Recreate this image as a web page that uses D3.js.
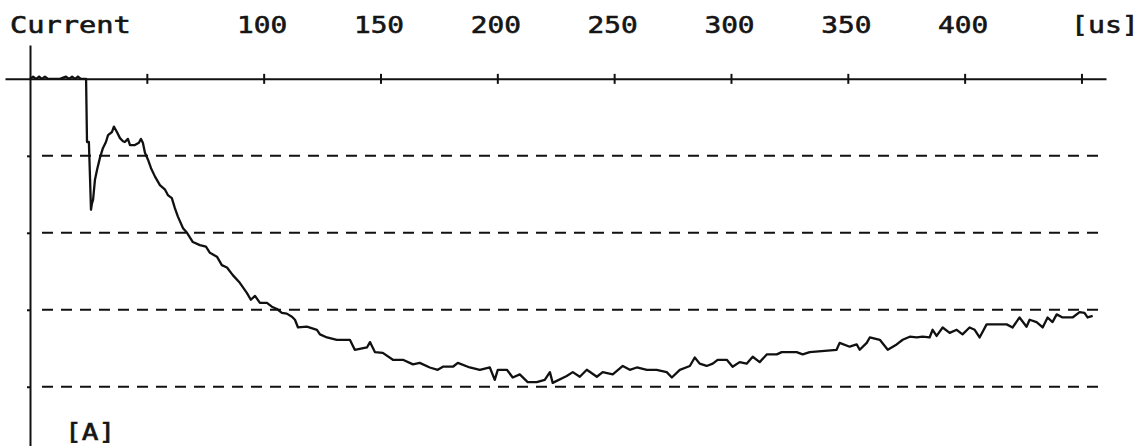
<!DOCTYPE html>
<html>
<head>
<meta charset="utf-8">
<script src="https://cdn.jsdelivr.net/npm/d3@7"></script>
<style>
  html, body { margin: 0; padding: 0; background: #fff; }
  svg { display: block; }
  .lbl { font-family: "DejaVu Sans Mono", monospace; font-size: 23px; font-weight: normal;
         fill: #151515; stroke: #151515; stroke-width: 0.6px; }
</style>
</head>
<body>
<svg id="chart" width="1142" height="446"></svg>
<script>
// Time axis, microseconds
const timeTicks = [50, 100, 150, 200, 250, 300, 350, 400, 450];
const timeTickLabels = ["", "100", "150", "200", "250", "300", "350", "400", ""];
const timeUnit = "[us]";
const currentTitle = "Current";
const currentUnit = "[A]";
// Current grid levels (divisions below zero)
const currentGrid = [-1, -2, -3, -4];

// Recorded trace: time (us) and current (div)
const traceTime = [
  0, 1.3, 2.6, 3.9, 5.1, 6.4, 7.7, 9.4, 12.8, 15.4, 16.7, 18.0, 19.3, 20.5, 21.8, 24.0,
  24.4, 25.2, 25.7, 26.1, 26.5, 27.0, 27.8, 28.7, 29.9, 31.2, 32.5, 33.4, 35.1, 35.9, 37.2,
  38.5, 39.8, 40.6, 41.9, 42.8, 44.9, 46.6, 47.5, 48.3, 49.2, 50.5, 51.8, 53.5, 55.6,
  57.8, 59.0, 60.7, 62.0, 63.3, 65.5, 67.2, 69.7, 72.7, 75.3, 77.0, 80.0, 82.1, 84.3,
  86.8, 89.8, 92.8, 94.5, 96.3, 98.4, 101.4, 103.5, 105.7, 107.8, 109.9, 112.1,
  113.4, 114.7, 118.5, 122.8, 124.1, 127.1, 131.3, 136.9, 139.0, 144.2, 145.5, 147.6,
  151.0, 155.3, 159.6, 163.9, 166.8, 171.1, 174.5, 176.7, 181.0, 183.1, 188.2, 192.5,
  196.8, 198.9, 200.2, 204.1, 206.6, 209.6, 213.0, 216.9, 220.3, 222.5, 223.7, 229.7,
  232.3, 235.3, 238.3, 242.6, 245.1, 249.4, 253.7, 256.7, 259.7, 264.0, 268.2, 272.5,
  274.7, 278.1, 282.4, 284.5, 286.6, 289.6, 292.2, 294.3, 298.2, 300.7, 303.7, 306.7,
  309.3, 312.3, 315.3, 319.6, 321.7, 328.1, 330.7, 333.7, 345.2, 346.5, 350.8, 353.8,
  355.1, 358.1, 359.4, 363.7, 367.1, 370.9, 373.5, 376.5, 379.5, 382.0, 385.0, 386.3,
  388.0, 390.6, 393.6, 396.6, 399.1, 402.1, 404.3, 406.4, 409.4, 418.0, 420.5, 423.5,
  426.5, 427.8, 430.8, 433.4, 435.5, 437.6, 439.4, 441.9, 446.2, 449.2, 451.3, 452.6, 454.8
];
const traceCurrent = [
  0, 0.03, 0, 0.03, 0, 0.03, 0, 0, 0, 0.03, 0, 0.03, 0, 0.03, 0, 0,
  -0.82, -0.82, -1.3, -1.70, -1.62, -1.57, -1.31, -1.18, -1.03, -0.90, -0.82, -0.73, -0.69, -0.62, -0.69,
  -0.77, -0.81, -0.82, -0.78, -0.86, -0.86, -0.83, -0.78, -0.83, -0.96, -1.05, -1.16, -1.27, -1.38,
  -1.44, -1.51, -1.55, -1.68, -1.79, -1.94, -2.00, -2.12, -2.16, -2.18, -2.26, -2.31, -2.42, -2.45,
  -2.55, -2.65, -2.78, -2.87, -2.82, -2.91, -2.91, -2.96, -2.99, -3.04, -3.05, -3.09,
  -3.13, -3.23, -3.22, -3.26, -3.32, -3.36, -3.39, -3.39, -3.52, -3.49, -3.42, -3.55,
  -3.56, -3.65, -3.65, -3.71, -3.69, -3.75, -3.78, -3.74, -3.74, -3.69, -3.75, -3.78,
  -3.75, -3.91, -3.78, -3.78, -3.88, -3.84, -3.94, -3.94, -3.91, -3.81, -3.95, -3.86,
  -3.81, -3.87, -3.78, -3.87, -3.81, -3.84, -3.73, -3.78, -3.75, -3.78, -3.78, -3.81,
  -3.88, -3.78, -3.73, -3.62, -3.70, -3.73, -3.70, -3.65, -3.65, -3.74, -3.68, -3.70,
  -3.61, -3.68, -3.58, -3.58, -3.55, -3.55, -3.58, -3.55, -3.52, -3.43, -3.48, -3.45,
  -3.52, -3.43, -3.36, -3.39, -3.52, -3.45, -3.39, -3.35, -3.36, -3.35, -3.36, -3.26,
  -3.34, -3.23, -3.30, -3.26, -3.32, -3.23, -3.26, -3.36, -3.19, -3.19, -3.23, -3.10,
  -3.22, -3.13, -3.16, -3.23, -3.10, -3.16, -3.06, -3.10, -3.10, -3.03, -3.04, -3.10, -3.08
];

const svg = d3.select("#chart");

const x = d3.scaleLinear().domain([-10.7, 460.5]).range([5, 1106]);
const y = d3.scaleLinear().domain([0.44, -4.77]).range([45, 446]);

// Monospaced label width: 17.7px per character cell
const labelWidth = s => s.length * 17.7 - 3;

// Dashed division lines
svg.append("g")
  .selectAll("line")
  .data(currentGrid)
  .join("line")
  .attr("x1", x(0) + 12)
  .attr("x2", x(458))
  .attr("y1", d => y(d))
  .attr("y2", d => y(d))
  .attr("stroke", "#111")
  .attr("stroke-width", 2)
  .attr("stroke-dasharray", "11,8");

// Current axis (vertical line at t = 0)
const yAxis = svg.append("g")
  .attr("transform", `translate(${x(0)},0)`)
  .call(d3.axisLeft(y).tickValues(currentGrid).tickSize(3).tickSizeOuter(0).tickFormat(""));
yAxis.select(".domain").attr("stroke", "#111").attr("stroke-width", 2);
yAxis.selectAll(".tick line").attr("stroke", "#111").attr("stroke-width", 2);

// Time axis along zero current
const xAxis = svg.append("g")
  .attr("transform", `translate(0,${y(0)})`)
  .call(d3.axisTop(x).tickValues(timeTicks).tickSizeOuter(0)
    .tickFormat((d, i) => timeTickLabels[i]));
xAxis.select(".domain").attr("stroke", "#111").attr("stroke-width", 2);
xAxis.selectAll(".tick line")
  .attr("y1", -5).attr("y2", 5)
  .attr("stroke", "#111").attr("stroke-width", 2);
xAxis.selectAll(".tick text")
  .attr("class", "lbl")
  .attr("y", -46)
  .attr("dy", 0)
  .attr("dx", -2)
  .attr("font-family", null)
  .attr("font-size", null)
  .attr("fill", null)
  .each(function () {
    const s = this.textContent;
    if (s) d3.select(this).attr("textLength", labelWidth(s)).attr("lengthAdjust", "spacingAndGlyphs");
  });

// Titles and units
const addLabel = (s, x0, y0) => svg.append("text").attr("class", "lbl")
  .attr("x", x0).attr("y", y0)
  .attr("textLength", labelWidth(s)).attr("lengthAdjust", "spacingAndGlyphs")
  .text(s);
addLabel(currentTitle, 10, 33);
addLabel(timeUnit, 1071, 33);
addLabel(currentUnit, 65, 440);

// Trace
const trace = traceTime.map((t, i) => [t, traceCurrent[i]]);
svg.append("path")
  .datum(trace)
  .attr("fill", "none")
  .attr("stroke", "#111")
  .attr("stroke-width", 2.3)
  .attr("stroke-linejoin", "round")
  .attr("d", d3.line().x(d => x(d[0])).y(d => y(d[1])));
</script>
</body>
</html>
